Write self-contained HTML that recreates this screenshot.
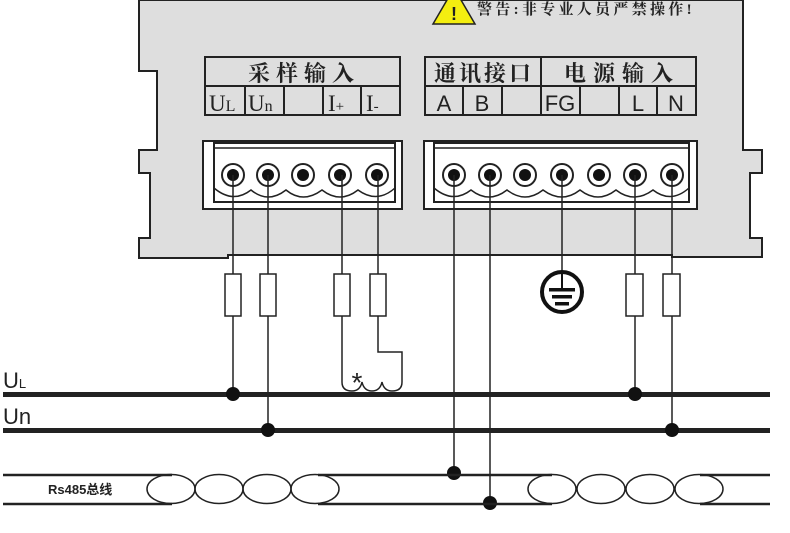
<!DOCTYPE html>
<html><head><meta charset="utf-8"><style>
html,body{margin:0;padding:0;background:#fff;}
svg{display:block;}
text{font-family:"Liberation Sans","Noto Sans CJK SC",sans-serif;}
.cn{font-family:"Liberation Serif","Noto Serif CJK SC",serif;}
</style></head><body>
<svg width="790" height="533" viewBox="0 0 790 533" xmlns="http://www.w3.org/2000/svg">
<polygon points="139,0 743,0 743,150 762,150 762,173 750,173 750,238 762,238 762,257 672,257 672,255 228,255 228,258 139,258 139,238 150,238 150,173 139,173 139,150 157,150 157,71 139,71" fill="#dedede" stroke="#222" stroke-width="2"/>
<polygon points="454,-12 433,24 475,24" fill="#f4ee10" stroke="#222" stroke-width="1.5"/>
<text x="454" y="20" font-size="18" text-anchor="middle" font-weight="bold" fill="#222">!</text>
<text class="cn" x="477" y="14" font-size="15" font-weight="bold" letter-spacing="3.3" fill="#222">警告:非专业人员严禁操作!</text>
<g fill="none" stroke="#222" stroke-width="2">
<rect x="205" y="57" width="195" height="58"/>
<line x1="205" y1="86" x2="400" y2="86"/>
<line x1="245" y1="86" x2="245" y2="115"/><line x1="284" y1="86" x2="284" y2="115"/>
<line x1="323" y1="86" x2="323" y2="115"/><line x1="361" y1="86" x2="361" y2="115"/>
<rect x="425" y="57" width="271" height="58"/>
<line x1="425" y1="86" x2="696" y2="86"/>
<line x1="541" y1="57" x2="541" y2="115"/>
<line x1="463" y1="86" x2="463" y2="115"/><line x1="502" y1="86" x2="502" y2="115"/>
<line x1="580" y1="86" x2="580" y2="115"/><line x1="619" y1="86" x2="619" y2="115"/><line x1="657" y1="86" x2="657" y2="115"/>
</g>
<g fill="#222">
<text class="cn" x="304" y="81" font-size="22" font-weight="bold" text-anchor="middle" letter-spacing="6">采样输入</text>
<text class="cn" x="209" y="111" font-size="23">U<tspan font-size="16">L</tspan></text>
<text class="cn" x="248" y="111" font-size="23">U<tspan font-size="16">n</tspan></text>
<text class="cn" x="328" y="111" font-size="23">I<tspan font-size="15">+</tspan></text>
<text class="cn" x="366" y="111" font-size="23">I<tspan font-size="15">-</tspan></text>
<text class="cn" x="484" y="81" font-size="22" font-weight="bold" text-anchor="middle" letter-spacing="3">通讯接口</text>
<text class="cn" x="622" y="81" font-size="22" font-weight="bold" text-anchor="middle" letter-spacing="7">电源输入</text>
<text x="444" y="111" font-size="22" text-anchor="middle">A</text>
<text x="482" y="111" font-size="22" text-anchor="middle">B</text>
<text x="560" y="111" font-size="22" text-anchor="middle">FG</text>
<text x="638" y="111" font-size="22" text-anchor="middle">L</text>
<text x="676" y="111" font-size="22" text-anchor="middle">N</text>
</g>
<g stroke="#222" stroke-width="2" fill="#fff">
<rect x="203" y="141" width="199" height="68"/>
<rect x="214" y="143" width="181" height="59"/>
<rect x="424" y="141" width="273" height="68"/>
<rect x="434" y="143" width="255" height="59"/>
</g>
<line x1="214" y1="148" x2="395" y2="148" stroke="#222" stroke-width="1.5"/>
<line x1="434" y1="148" x2="689" y2="148" stroke="#222" stroke-width="1.5"/>
<path d="M214,188 Q233,204 251,190 Q268,204 286,190 Q303,204 322,190 Q340,204 358,190 Q377,204 395,188" fill="none" stroke="#222" stroke-width="1.5"/>
<path d="M434,188 Q453,204 471,190 Q489,204 507,190 Q525,204 543,190 Q562,204 580,190 Q598,204 616,190 Q634,204 653,190 Q671,204 689,188" fill="none" stroke="#222" stroke-width="1.5"/>
<g stroke="#222" stroke-width="2" fill="#fff">
<circle cx="233" cy="175" r="11"/><circle cx="268" cy="175" r="11"/><circle cx="303" cy="175" r="11"/><circle cx="340" cy="175" r="11"/><circle cx="377" cy="175" r="11"/>
<circle cx="454" cy="175" r="11"/><circle cx="490" cy="175" r="11"/><circle cx="525" cy="175" r="11"/><circle cx="562" cy="175" r="11"/><circle cx="599" cy="175" r="11"/><circle cx="635" cy="175" r="11"/><circle cx="672" cy="175" r="11"/>
</g>
<g fill="#111">
<circle cx="233" cy="175" r="6"/><circle cx="268" cy="175" r="6"/><circle cx="303" cy="175" r="6"/><circle cx="340" cy="175" r="6"/><circle cx="377" cy="175" r="6"/>
<circle cx="454" cy="175" r="6"/><circle cx="490" cy="175" r="6"/><circle cx="525" cy="175" r="6"/><circle cx="562" cy="175" r="6"/><circle cx="599" cy="175" r="6"/><circle cx="635" cy="175" r="6"/><circle cx="672" cy="175" r="6"/>
</g>
<g stroke="#222" stroke-width="1.5" fill="none">
<line x1="233" y1="175" x2="233" y2="394"/>
<line x1="268" y1="175" x2="268" y2="430"/>
<line x1="635" y1="175" x2="635" y2="394"/>
<line x1="672" y1="175" x2="672" y2="430"/>
<line x1="454" y1="175" x2="454" y2="475"/>
<line x1="490" y1="175" x2="490" y2="504"/>
<line x1="562" y1="175" x2="562" y2="271"/>
<path d="M342,175 V382 Q342,391 352,391 Q360,391 362,382 Q364,391 372,391 Q380,391 382,382 Q384,391 392,391 Q402,391 402,382 V352 H378 V175"/>
</g>
<g stroke="#222" stroke-width="1.5" fill="#fff">
<rect x="225" y="274" width="16" height="42"/><rect x="260" y="274" width="16" height="42"/>
<rect x="334" y="274" width="16" height="42"/><rect x="370" y="274" width="16" height="42"/>
<rect x="626" y="274" width="17" height="42"/><rect x="663" y="274" width="17" height="42"/>
</g>
<text x="357" y="392" font-size="28" text-anchor="middle" fill="#222">*</text>
<ellipse cx="562" cy="292" rx="20" ry="20" fill="#fff" stroke="#111" stroke-width="4"/>
<line x1="562" y1="272" x2="562" y2="290" stroke="#111" stroke-width="2"/>
<rect x="549" y="288" width="26" height="3.5" fill="#111"/>
<rect x="552" y="295" width="20" height="3.5" fill="#111"/>
<rect x="555" y="302" width="14" height="3.5" fill="#111"/>
<rect x="3" y="392" width="767" height="5" fill="#222"/>
<rect x="3" y="428" width="767" height="5" fill="#222"/>
<text x="3" y="388" font-size="22" fill="#222">U<tspan font-size="13">L</tspan></text>
<text x="3" y="424" font-size="22" fill="#222">Un</text>
<g fill="#111"><circle cx="233" cy="394" r="7"/><circle cx="268" cy="430" r="7"/><circle cx="635" cy="394" r="7"/><circle cx="672" cy="430" r="7"/><circle cx="454" cy="473" r="7"/><circle cx="490" cy="503" r="7"/></g>
<g stroke="#222" stroke-width="2.5">
<line x1="3" y1="475" x2="172" y2="475"/><line x1="3" y1="504" x2="172" y2="504"/>
<line x1="318" y1="475" x2="552" y2="475"/><line x1="318" y1="504" x2="552" y2="504"/>
<line x1="700" y1="475" x2="770" y2="475"/><line x1="700" y1="504" x2="770" y2="504"/>
</g>
<g fill="none" stroke="#222" stroke-width="1.5">
<ellipse cx="171" cy="489" rx="24" ry="14.5"/><ellipse cx="219" cy="489" rx="24" ry="14.5"/><ellipse cx="267" cy="489" rx="24" ry="14.5"/><ellipse cx="315" cy="489" rx="24" ry="14.5"/>
<ellipse cx="552" cy="489" rx="24" ry="14.5"/><ellipse cx="601" cy="489" rx="24" ry="14.5"/><ellipse cx="650" cy="489" rx="24" ry="14.5"/><ellipse cx="699" cy="489" rx="24" ry="14.5"/>
</g>
<text x="48" y="494" font-size="13" font-weight="bold" fill="#222">Rs485总线</text>
</svg>
</body></html>
